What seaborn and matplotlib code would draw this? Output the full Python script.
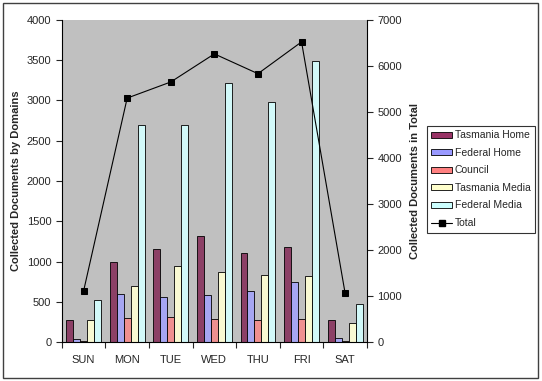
import numpy as np
import pandas as pd
import matplotlib
matplotlib.use("Agg")
import matplotlib.pyplot as plt
from matplotlib.patches import Rectangle
from matplotlib.lines import Line2D
import seaborn as sns

days = ["SUN", "MON", "TUE", "WED", "THU", "FRI", "SAT"]
tasmania_home = [280, 990, 1150, 1320, 1110, 1180, 270]
federal_home = [40, 600, 560, 580, 640, 750, 50]
council = [15, 300, 310, 290, 270, 290, 20]
tasmania_media = [270, 700, 940, 870, 830, 820, 240]
federal_media = [520, 2700, 2700, 3210, 2980, 3490, 470]
total = [1110, 5300, 5650, 6260, 5830, 6520, 1060]

series_names = ["Tasmania Home", "Federal Home", "Council", "Tasmania Media", "Federal Media"]
colors = ["#993366", "#9999FF", "#FF8080", "#FFFFCC", "#CCFFFF"]

df = pd.DataFrame({
    "day": days * 5,
    "series": sum([[n] * 7 for n in series_names], []),
    "value": tasmania_home + federal_home + council + tasmania_media + federal_media,
})

sns.set_style("white")
plt.rcParams["font.family"] = ["Liberation Sans", "DejaVu Sans"]

fig = plt.figure(figsize=(5.42, 3.81), dpi=100)
ax = fig.add_axes([0.114, 0.102, 0.563, 0.846])
ax.set_facecolor("#C0C0C0")

sns.barplot(data=df, x="day", y="value", hue="series", order=days,
            hue_order=series_names, palette=colors, edgecolor="black",
            linewidth=0.6, width=0.8, ax=ax, legend=False)

ax.set_ylim(0, 4000)
ax.set_xlim(-0.5, 6.5)
ax.set_yticks(range(0, 4001, 500))
ax.set_xlabel("")
ax.set_ylabel("Collected Documents by Domains", fontsize=8, fontweight="bold")
ax.set_xticks(range(7))
ax.set_xticklabels(days, fontsize=8)
ax.set_xticks(np.arange(-0.5, 7, 1), minor=True)
ax.tick_params(axis="x", which="major", length=0, pad=9)
ax.tick_params(axis="x", which="minor", length=4, width=0.8, direction="out", bottom=True)
ax.tick_params(axis="y", length=4, width=0.8, direction="out", labelsize=8, left=True)
for s in ["top", "right"]:
    ax.spines[s].set_visible(False)
for s in ["left", "bottom"]:
    ax.spines[s].set_color("black")
    ax.spines[s].set_linewidth(0.8)

ax2 = ax.twinx()
sns.lineplot(x=np.arange(7), y=total, ax=ax2, color="black", linewidth=0.8,
             marker="s", markersize=4, markeredgecolor="black")
ax2.set_ylim(0, 7000)
ax2.set_yticks(range(0, 7001, 1000))
ax2.set_ylabel("Collected Documents in Total", fontsize=8, fontweight="bold", labelpad=6)
ax2.tick_params(axis="y", length=4, width=0.8, direction="out", labelsize=8, right=True)
for s in ["top", "left", "bottom"]:
    ax2.spines[s].set_visible(False)
ax2.spines["right"].set_color("black")
ax2.spines["right"].set_linewidth(0.8)

handles = [Rectangle((0, 0), 1, 1, facecolor=c, edgecolor="black", linewidth=0.6) for c in colors]
handles.append(Line2D([0], [0], color="black", linewidth=0.8, marker="s", markersize=4))
leg = fig.legend(handles, series_names + ["Total"], loc="upper left",
                 bbox_to_anchor=(0.787, 0.670), fontsize=7.5, frameon=True,
                 fancybox=False, edgecolor="black", handlelength=2.0,
                 handleheight=0.55, labelspacing=0.72, borderpad=0.45,
                 handletextpad=0.25, borderaxespad=0)
leg.get_frame().set_linewidth(0.8)

fig.patches.append(Rectangle((0.006, 0.008), 0.986, 0.984, transform=fig.transFigure,
                             fill=False, edgecolor="#404040", linewidth=1))

fig.savefig("out.png", dpi=100)
